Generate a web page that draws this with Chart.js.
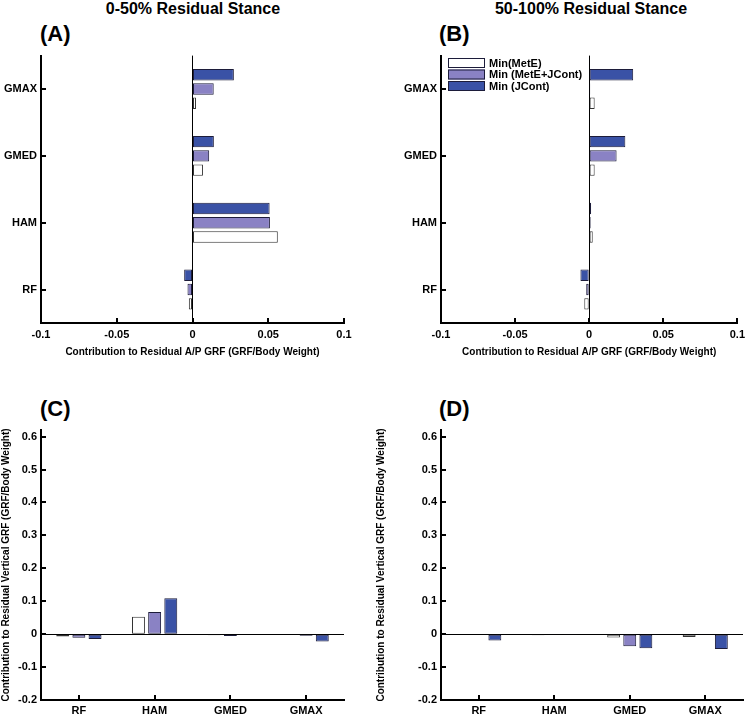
<!DOCTYPE html>
<html>
<head>
<meta charset="utf-8">
<script src="https://cdn.jsdelivr.net/npm/chart.js@4.4.0/dist/chart.umd.min.js"></script>
<style>
  body { margin: 0; background: #fff; }
  #wrap { position: relative; width: 750px; height: 722px; overflow: hidden; font-family: "Liberation Sans", Arial, sans-serif; }
  canvas { position: absolute; }
  .ttl { position: absolute; font-weight: bold; font-size: 16px; text-align: center; width: 300px; }
  .lbl { position: absolute; font-weight: bold; font-size: 22px; }
</style>
</head>
<body>
<div id="wrap">
  <div class="ttl" style="left:43px; top:0px;">0-50% Residual Stance</div>
  <div class="ttl" style="left:441px; top:0px;">50-100% Residual Stance</div>
  <div class="lbl" style="left:40px; top:21px;">(A)</div>
  <div class="lbl" style="left:439px; top:21px;">(B)</div>
  <div class="lbl" style="left:40px; top:396px;">(C)</div>
  <div class="lbl" style="left:439px; top:396px;">(D)</div>
  <canvas id="chartA" width="375" height="315" style="left:0; top:45px;"></canvas>
  <canvas id="chartB" width="375" height="315" style="left:375px; top:45px;"></canvas>
  <canvas id="chartC" width="375" height="362" style="left:0; top:360px;"></canvas>
  <canvas id="chartD" width="375" height="362" style="left:375px; top:360px;"></canvas>
</div>
<script>
// muscles and series
const muscles = ['RF', 'HAM', 'GMED', 'GMAX'];
const seriesNames = ['Min(MetE)', 'Min (MetE+JCont)', 'Min (JCont)'];
const seriesColors = ['#ffffff', '#8a82c4', '#3a52a6'];

// tick values
const apTicks = [-0.1, -0.05, 0, 0.05, 0.1];
const vertTicks = [-0.2, -0.1, 0, 0.1, 0.2, 0.3, 0.4, 0.5, 0.6];

// (A) A/P GRF, 0-50% stance
const apEarlyMetE = [-0.0024, 0.0563, 0.0069, 0.0023];
const apEarlyMix = [-0.0033, 0.0511, 0.0110, 0.0140];
const apEarlyJCont = [-0.0055, 0.0509, 0.0141, 0.0273];

// (B) A/P GRF, 50-100% stance
const apLateMetE = [-0.0033, 0.0024, 0.0037, 0.0037];
const apLateMix = [-0.0020, 0.0010, 0.0185, 0.0007];
const apLateJCont = [-0.0059, 0.0013, 0.0244, 0.0297];

// (C) vertical GRF, 0-50% stance
const vEarlyMetE = [-0.007, 0.053, -0.003, 0.001];
const vEarlyMix = [-0.011, 0.067, -0.006, -0.005];
const vEarlyJCont = [-0.015, 0.109, -0.002, -0.022];

// (D) vertical GRF, 50-100% stance
const vLateMetE = [-0.002, -0.003, -0.010, -0.009];
const vLateMix = [-0.002, -0.001, -0.037, -0.001];
const vLateJCont = [-0.019, -0.001, -0.043, -0.045];

const FONT = '"Liberation Sans", Arial, sans-serif';
Chart.defaults.font.family = FONT;

// order: list of series indices, first one is drawn first in each group
function datasets(series, order) {
  return order.map(i => ({
    label: seriesNames[i],
    data: series[i],
    backgroundColor: seriesColors[i],
    borderColor: i === 0 ? '#333' : '#1c1c3a',
    borderWidth: 1,
    borderSkipped: false,
    categoryPercentage: 0.64,
    barPercentage: 0.8
  }));
}

// inward tick marks + the box legend of panel B
const deco = {
  id: 'deco',
  afterDraw(chart, args, opts) {
    const ctx = chart.ctx;
    const xs = chart.scales.x, ys = chart.scales.y;
    const hs = xs.isHorizontal() ? xs : ys;
    const vs = xs.isHorizontal() ? ys : xs;
    const L = Math.round(vs.right), T = Math.round(vs.top), B = Math.round(hs.top);
    ctx.save();
    ctx.strokeStyle = 'rgb(0,0,0)';
    ctx.lineWidth = 2;
    hs.ticks.forEach((t, i) => {
      const p = Math.round(hs.getPixelForTick(i));
      ctx.beginPath();
      ctx.moveTo(p, B);
      ctx.lineTo(p, B - 5);
      ctx.stroke();
    });
    vs.ticks.forEach((t, i) => {
      const p = Math.round(vs.getPixelForTick(i));
      ctx.beginPath();
      ctx.moveTo(L, p);
      ctx.lineTo(L + 5, p);
      ctx.stroke();
    });
    if (opts.legend) {
      ctx.font = 'bold 11px ' + FONT;
      ctx.textBaseline = 'middle';
      [0, 1, 2].forEach(i => {
        const x = L + 7, y = T + 2 + i * 11.5;
        ctx.fillStyle = seriesColors[i];
        ctx.fillRect(x, y, 37, 10);
        ctx.strokeStyle = '#1c1c3a';
        ctx.lineWidth = 1;
        ctx.strokeRect(x + 0.5, y + 0.5, 36, 9);
        ctx.fillStyle = '#000';
        ctx.fillText(seriesNames[i], x + 41, y + 5.5);
      });
    }
    ctx.restore();
  }
};

// value-axis grid: black line at 0 and a heavy line at the axis minimum (the other axis)
function valueGrid(minVal) {
  return {
    drawTicks: false,
    color: c => (c.tick && (c.tick.value === 0 || c.tick.value === minVal)) ? '#000' : 'rgba(0,0,0,0)',
    lineWidth: c => (c.tick && c.tick.value === minVal) ? 2 : 1
  };
}
// category-axis grid: only the first edge line, which is the value axis line
const catGrid = {
  drawTicks: false,
  offset: true,
  color: c => c.index === 0 ? '#000' : 'rgba(0,0,0,0)',
  lineWidth: c => c.index === 0 ? 2 : 1
};
const axisBorder = { display: true, color: '#000', width: 2 };
const tickFont = { size: 11, weight: 'bold' };

function fmt(v) {
  return v === 0 ? '0' : String(Math.round(v * 100) / 100);
}

function makeAP(id, ds, yWidth, rightPad, legend) {
  return new Chart(document.getElementById(id), {
    type: 'bar',
    data: { labels: muscles, datasets: ds },
    plugins: [deco],
    options: {
      indexAxis: 'y',
      responsive: false,
      animation: false,
      layout: { padding: { top: 10, right: rightPad, left: 0, bottom: 0 } },
      plugins: { legend: { display: false }, tooltip: { enabled: false }, deco: { legend: legend } },
      scales: {
        x: {
          type: 'linear',
          min: apTicks[0], max: apTicks[apTicks.length - 1],
          afterBuildTicks: s => { s.ticks = apTicks.map(v => ({ value: v })); },
          afterFit: s => { s.height = 37; },
          ticks: { font: tickFont, color: '#000', padding: 5, callback: v => fmt(v), maxRotation: 0 },
          grid: valueGrid(apTicks[0]),
          border: axisBorder,
          title: {
            display: true,
            text: 'Contribution to Residual A/P GRF (GRF/Body Weight)',
            color: '#000',
            font: { size: 10, weight: 'bold' },
            padding: { top: 0, bottom: 2 }
          }
        },
        y: {
          reverse: true,
          afterFit: s => { s.width = yWidth; },
          ticks: { font: tickFont, color: '#000', padding: 4 },
          grid: catGrid,
          border: axisBorder
        }
      }
    }
  });
}

function makeVert(id, ds, yWidth, rightPad) {
  return new Chart(document.getElementById(id), {
    type: 'bar',
    data: { labels: muscles, datasets: ds },
    plugins: [deco],
    options: {
      responsive: false,
      animation: false,
      layout: { padding: { top: 70, right: rightPad, left: 0, bottom: 0 } },
      plugins: { legend: { display: false }, tooltip: { enabled: false }, deco: { legend: false } },
      scales: {
        x: {
          afterFit: s => { s.height = 22; },
          ticks: { font: tickFont, color: '#000', padding: 4 },
          grid: catGrid,
          border: axisBorder
        },
        y: {
          min: vertTicks[0], max: 0.62,
          afterBuildTicks: s => { s.ticks = vertTicks.map(v => ({ value: v })); },
          afterFit: s => { s.width = yWidth; },
          ticks: { font: tickFont, color: '#000', padding: 4, callback: v => fmt(v) },
          grid: valueGrid(vertTicks[0]),
          border: axisBorder,
          title: {
            display: true,
            text: 'Contribution to Residual Vertical GRF (GRF/Body Weight)',
            color: '#000',
            font: { size: 10, weight: 'bold' },
            padding: 0
          }
        }
      }
    }
  });
}

// horizontal panels: blue on top, white at the bottom of each group
makeAP('chartA', datasets([apEarlyMetE, apEarlyMix, apEarlyJCont], [2, 1, 0]), 41, 31, false);
makeAP('chartB', datasets([apLateMetE, apLateMix, apLateJCont], [2, 1, 0]), 66, 7, true);
makeVert('chartC', datasets([vEarlyMetE, vEarlyMix, vEarlyJCont], [0, 1, 2]), 41, 31);
makeVert('chartD', datasets([vLateMetE, vLateMix, vLateJCont], [0, 1, 2]), 66, 7);
</script>
</body>
</html>
